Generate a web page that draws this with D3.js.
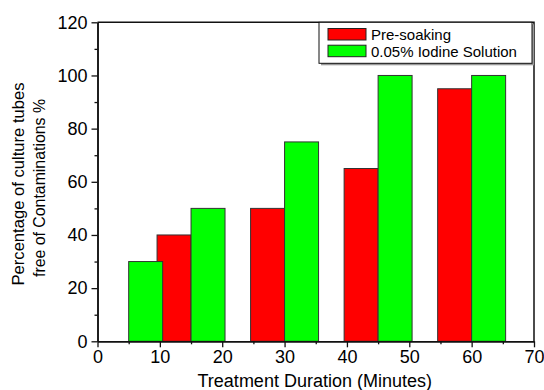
<!DOCTYPE html>
<html>
<head>
<meta charset="utf-8">
<script src="https://cdn.jsdelivr.net/npm/d3@7"></script>
<style>
    body { margin: 0; background: #fff; }
    text { font-family: "Liberation Sans", Arial, sans-serif; fill: #000; }
</style>
</head>
<body>
<script>
// series: x position (minutes) and percentage
var presoakX = [15, 30, 45, 60],
    presoakVals = [40, 50, 65, 95];
var iodineX = [5, 15, 30, 45, 60],
    iodineVals = [30, 50, 75, 100, 100];

var xTicks = [0, 10, 20, 30, 40, 50, 60, 70],
    xMinor = [5, 15, 25, 35, 45, 55, 65],
    yTicks = [0, 20, 40, 60, 80, 100, 120],
    yMinor = [10, 30, 50, 70, 90, 110];

var seriesNames = ["Pre-soaking", "0.05% Iodine Solution"],
    seriesColors = ["#ff0000", "#00ff00"];

var w = 544, h = 390;
var padL = 97.5, padR = 534, padT = 22.3, padB = 341.3;
var barW = 5.45; // in minutes

var svg = d3.select("body").append("svg").attr("width", w).attr("height", h);

var xScale = d3.scaleLinear().domain([0, 70]).range([padL, padR]);
var yScale = d3.scaleLinear().domain([0, 120]).range([padB, padT]);

function zip(xs, vs) {
    return xs.map(function (x, i) { return { x: x, v: vs[i] }; });
}

// pre-soaking bars sit left of their x, iodine bars right of it
svg.selectAll("rect.pre").data(zip(presoakX, presoakVals)).enter()
    .append("rect")
    .attr("class", "pre")
    .attr("x", function (d) { return xScale(d.x - barW); })
    .attr("y", function (d) { return yScale(d.v); })
    .attr("width", xScale(barW) - xScale(0))
    .attr("height", function (d) { return yScale(0) - yScale(d.v); })
    .attr("fill", seriesColors[0])
    .attr("stroke", "#333")
    .attr("stroke-width", 1);

svg.selectAll("rect.iod").data(zip(iodineX, iodineVals)).enter()
    .append("rect")
    .attr("class", "iod")
    .attr("x", function (d) { return xScale(d.x); })
    .attr("y", function (d) { return yScale(d.v); })
    .attr("width", xScale(barW) - xScale(0))
    .attr("height", function (d) { return yScale(0) - yScale(d.v); })
    .attr("fill", seriesColors[1])
    .attr("stroke", "#333")
    .attr("stroke-width", 1);

// axes
svg.append("g")
    .attr("transform", "translate(0," + padB + ")")
    .call(d3.axisBottom(xScale).tickValues(xTicks).tickSize(6).tickSizeOuter(0).tickPadding(3));
svg.append("g")
    .attr("transform", "translate(0," + padB + ")")
    .call(d3.axisBottom(xScale).tickValues(xMinor).tickSize(3).tickSizeOuter(0).tickFormat(""));

svg.append("g")
    .attr("transform", "translate(" + padL + ",0)")
    .call(d3.axisLeft(yScale).tickValues(yTicks).tickSize(6).tickSizeOuter(0).tickPadding(4));
svg.append("g")
    .attr("transform", "translate(" + padL + ",0)")
    .call(d3.axisLeft(yScale).tickValues(yMinor).tickSize(3).tickSizeOuter(0).tickFormat(""));

svg.selectAll(".domain").attr("stroke", "#111").attr("stroke-width", 1.5);
svg.selectAll(".tick line").attr("stroke", "#111").attr("stroke-width", 1.3);
svg.selectAll(".tick text")
    .style("font-family", "'Liberation Sans', Arial, sans-serif")
    .style("font-size", "18px")
    .attr("fill", "#000");

// frame top and right
svg.append("path")
    .attr("d", "M" + padL + "," + padT + "H" + padR + "V" + padB)
    .attr("fill", "none")
    .attr("stroke", "#111")
    .attr("stroke-width", 1.5);

// axis titles
svg.append("text")
    .attr("x", (padL + padR) / 2 - 1)
    .attr("y", 387)
    .attr("text-anchor", "middle")
    .style("font-size", "18px")
    .text("Treatment Duration (Minutes)");

var yTitle = svg.append("text")
    .attr("transform", "rotate(-90)")
    .attr("text-anchor", "middle")
    .style("font-size", "17px");
yTitle.append("tspan").attr("x", -184).attr("y", 24)
    .attr("textLength", 203).attr("lengthAdjust", "spacingAndGlyphs")
    .text("Percentage of culture tubes");
yTitle.append("tspan").attr("x", -188).attr("y", 45)
    .attr("textLength", 178).attr("lengthAdjust", "spacingAndGlyphs")
    .text("free of Contaminations %");

// legend
var lg = svg.append("g");
lg.append("rect")
    .attr("x", 321).attr("y", 24.3).attr("width", 213).attr("height", 41)
    .attr("fill", "#999");
lg.append("rect")
    .attr("x", 319).attr("y", 22.3).attr("width", 213).attr("height", 41)
    .attr("fill", "#fff").attr("stroke", "#111").attr("stroke-width", 1);

seriesNames.forEach(function (name, i) {
    lg.append("rect")
        .attr("x", 328).attr("y", 28.5 + i * 16.7)
        .attr("width", 38).attr("height", 11.5)
        .attr("fill", seriesColors[i]).attr("stroke", "#222").attr("stroke-width", 1);
    lg.append("text")
        .attr("x", 371).attr("y", 39.5 + i * 17)
        .style("font-size", "15px")
        .text(name);
});
</script>
</body>
</html>
